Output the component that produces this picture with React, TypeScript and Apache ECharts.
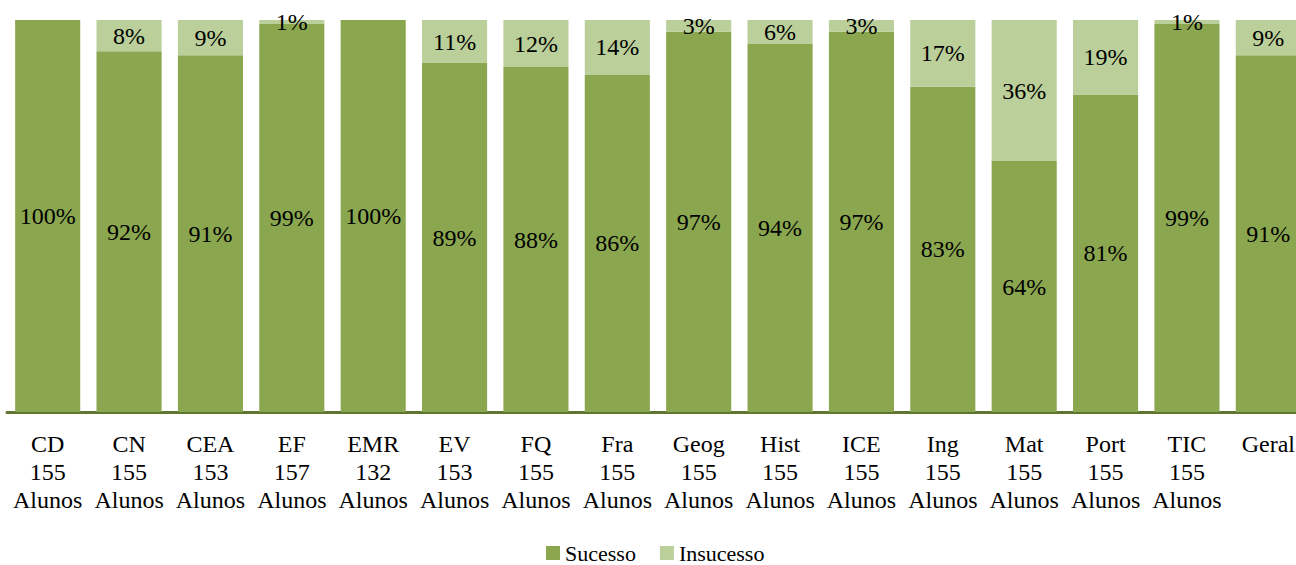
import React, { useEffect, useRef } from "react";
import * as echarts from "echarts";

const subjects = ["CD", "CN", "CEA", "EF", "EMR", "EV", "FQ", "Fra", "Geog", "Hist", "ICE", "Ing", "Mat", "Port", "TIC", "Geral"];
const students = ["155", "155", "153", "157", "132", "153", "155", "155", "155", "155", "155", "155", "155", "155", "155", ""];
const sucesso = [100, 92, 91, 99, 100, 89, 88, 86, 97, 94, 97, 83, 64, 81, 99, 91];
const insucesso = [0, 8, 9, 1, 0, 11, 12, 14, 3, 6, 3, 17, 36, 19, 1, 9];

const FONT = "Liberation Serif";

export default function App() {
  const ref = useRef<HTMLDivElement>(null);
  useEffect(() => {
    document.body.style.margin = "0";
    document.body.style.overflow = "hidden";
    const chart = echarts.init(ref.current!, null, { renderer: "svg" });
    const labels = subjects.map((s, i) => (students[i] ? `${s}\n${students[i]}\nAlunos` : s));
    chart.setOption({
      animation: false,
      textStyle: { fontFamily: FONT },
      grid: { left: 7, right: 0, top: 20, bottom: 153, containLabel: false },
      legend: {
        data: ["Sucesso", "Insucesso"],
        left: 541,
        top: 537,
        itemWidth: 14,
        itemHeight: 14,
        itemGap: 24,
        icon: "rect",
        textStyle: { fontFamily: FONT, fontSize: 22, color: "#000" },
      },
      xAxis: {
        type: "category",
        data: labels,
        axisLine: { show: true, lineStyle: { color: "#5F7530", width: 3 } },
        axisTick: { show: false },
        axisLabel: {
          interval: 0,
          fontFamily: FONT,
          fontSize: 24,
          lineHeight: 28,
          color: "#000",
          margin: 18,
        },
      },
      yAxis: { type: "value", min: 0, max: 100, show: false },
      series: [
        {
          name: "Sucesso",
          type: "bar",
          stack: "t",
          barCategoryGap: "20%",
          data: sucesso,
          itemStyle: { color: "#8AA64F" },
          label: {
            show: true,
            position: "inside",
            formatter: (p: any) => (p.value > 0 ? `${p.value}%` : ""),
            fontFamily: FONT,
            fontSize: 24,
            color: "#000",
          },
        },
        {
          name: "Insucesso",
          type: "bar",
          stack: "t",
          data: insucesso,
          itemStyle: { color: "#BACF99" },
          label: {
            show: true,
            position: "inside",
            formatter: (p: any) => (p.value > 0 ? `${p.value}%` : ""),
            fontFamily: FONT,
            fontSize: 24,
            color: "#000",
          },
        },
      ],
    });
    return () => chart.dispose();
  }, []);
  return (
    <div style={{ width: 1296, height: 565, overflow: "hidden" }}>
      <div ref={ref} style={{ width: 1309, height: 565 }} />
    </div>
  );
}
